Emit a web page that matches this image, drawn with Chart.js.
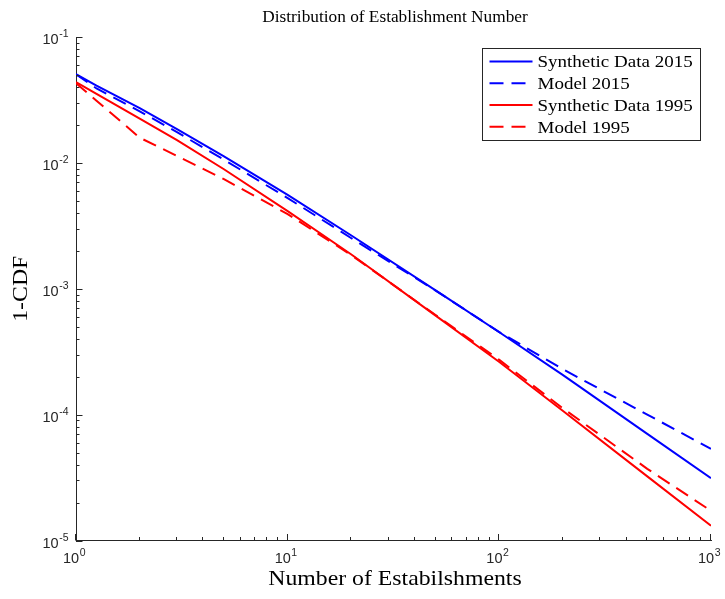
<!DOCTYPE html>
<html>
<head>
<meta charset="utf-8">
<title>Distribution of Establishment Number</title>
<script src="https://cdn.jsdelivr.net/npm/chart.js@4.4.1/dist/chart.umd.min.js"></script>
<style>
  html, body { margin: 0; padding: 0; background: #ffffff; }
  #wrap { width: 725px; height: 599px; }
</style>
</head>
<body>
<div id="wrap"><canvas id="c" width="725" height="599"></canvas></div>
<script>
// Number of establishments (x) and the complementary CDF of each series
const establishments = [1, 1.25, 2, 3, 5, 10, 20, 50, 100, 200, 500, 1000];
const synthetic2015 = [0.0506, 0.0411, 0.0272, 0.01854, 0.01127, 0.00557, 0.00265, 9.70e-4, 4.51e-4, 2.06e-4, 7.03e-5, 3.13e-5];
const model2015     = [0.0506, 0.0390, 0.0257, 0.01753, 0.0106, 0.00525, 0.00252, 9.68e-4, 4.53e-4, 2.29e-4, 1.00e-4, 5.35e-5];
const synthetic1995 = [0.0439, 0.0353, 0.02244, 0.01514, 0.0089, 0.00414, 0.00187, 6.11e-4, 2.62e-4, 1.07e-4, 3.23e-5, 1.31e-5];
const model1995     = [0.0430, 0.0312, 0.01585, 0.01135, 0.00743, 0.00392, 0.00185, 6.18e-4, 2.72e-4, 1.12e-4, 3.71e-5, 1.72e-5];

const seriesNames = ['Synthetic Data 2015', 'Model 2015', 'Synthetic Data 1995', 'Model 1995'];
const xTickExponents = [0, 1, 2, 3];
const yTickExponents = [-5, -4, -3, -2, -1];

const chartTitle = 'Distribution of Establishment Number';
const xAxisTitle = 'Number of Estabilshments';
const yAxisTitle = '1-CDF';

const BLUE = '#0000ff';
const RED = '#ff0000';
const AXIS = '#262626';
const DASH = [14, 8];
const SERIF = '"Liberation Serif", "Times New Roman", serif';
const SANS = '"Liberation Sans", Arial, sans-serif';
const STRETCH = 1.08;

function points(values) {
  return establishments.map((x, i) => ({ x: x, y: values[i] }));
}

const styles = [
  { color: BLUE, dash: [] },
  { color: BLUE, dash: DASH },
  { color: RED, dash: [] },
  { color: RED, dash: DASH }
];
const valueSets = [synthetic2015, model2015, synthetic1995, model1995];

const datasets = valueSets.map((vals, i) => ({
  label: seriesNames[i],
  data: points(vals),
  borderColor: styles[i].color,
  backgroundColor: styles[i].color,
  borderDash: styles[i].dash,
  borderWidth: 2,
  pointRadius: 0,
  showLine: true,
  fill: false,
  tension: 0,
  order: valueSets.length - i
}));

function stretchedText(ctx, text, x, y, align, baseline, font, angle) {
  ctx.save();
  ctx.translate(x, y);
  if (angle) ctx.rotate(angle);
  ctx.scale(STRETCH, 1);
  ctx.font = font;
  ctx.textAlign = align;
  ctx.textBaseline = baseline;
  ctx.fillStyle = '#000000';
  ctx.fillText(text, 0, 0);
  ctx.restore();
}

// Power-of-ten label: "10" with a raised exponent
function powerLabel(ctx, exp, anchorX, baseY, align) {
  const big = '14.5px ' + SANS;
  const small = '10.5px ' + SANS;
  const e = String(exp);
  ctx.save();
  ctx.fillStyle = '#262626';
  ctx.textBaseline = 'alphabetic';
  ctx.font = big;
  const wb = ctx.measureText('10').width;
  ctx.font = small;
  const we = ctx.measureText(e).width;
  let left;
  if (align === 'right') left = anchorX - wb - we;
  else left = anchorX - (wb + we) / 2;
  ctx.textAlign = 'left';
  ctx.font = big;
  ctx.fillText('10', left, baseY);
  ctx.font = small;
  ctx.fillText(e, left + wb + 0.5, baseY - 7);
  ctx.restore();
}

const decorations = {
  id: 'decorations',
  afterDraw(chart) {
    const ctx = chart.ctx;
    const xs = chart.scales.x;
    const ys = chart.scales.y;
    const area = chart.chartArea;

    // inward ticks
    ctx.save();
    ctx.strokeStyle = AXIS;
    ctx.lineWidth = 1;
    ctx.beginPath();
    for (let e = yTickExponents[0]; e <= yTickExponents[yTickExponents.length - 1]; e++) {
      const major = Math.round(ys.getPixelForValue(Math.pow(10, e))) + 0.5;
      ctx.moveTo(area.left, major); ctx.lineTo(area.left + 6.5, major);
      if (e < yTickExponents[yTickExponents.length - 1]) {
        for (let m = 2; m <= 9; m++) {
          const p = Math.round(ys.getPixelForValue(m * Math.pow(10, e))) + 0.5;
          ctx.moveTo(area.left, p); ctx.lineTo(area.left + 3.5, p);
        }
      }
    }
    for (let e = xTickExponents[0]; e <= xTickExponents[xTickExponents.length - 1]; e++) {
      const major = Math.round(xs.getPixelForValue(Math.pow(10, e))) - 0.5;
      ctx.moveTo(major, area.bottom); ctx.lineTo(major, area.bottom - 6.5);
      if (e < xTickExponents[xTickExponents.length - 1]) {
        for (let m = 2; m <= 9; m++) {
          const p = Math.round(xs.getPixelForValue(m * Math.pow(10, e))) - 0.5;
          ctx.moveTo(p, area.bottom); ctx.lineTo(p, area.bottom - 3.5);
        }
      }
    }
    ctx.stroke();
    ctx.restore();

    // tick labels
    yTickExponents.forEach(e => {
      const py = ys.getPixelForValue(Math.pow(10, e));
      powerLabel(ctx, e, 68, py + 7, 'right');
    });
    xTickExponents.forEach(e => {
      const px = xs.getPixelForValue(Math.pow(10, e));
      powerLabel(ctx, e, px - 2, 563, 'center');
    });

    // titles
    const midX = (area.left + area.right) / 2;
    stretchedText(ctx, chartTitle, midX + 1.5, 22, 'center', 'alphabetic', '16px ' + SERIF);
    stretchedText(ctx, xAxisTitle, midX + 1.5, 584.5, 'center', 'alphabetic', '22px ' + SERIF);
    stretchedText(ctx, yAxisTitle, 27, (area.top + area.bottom) / 2, 'center', 'alphabetic', '22px ' + SERIF, -Math.PI / 2);

    // legend
    const box = { left: 482.5, top: 48.5, right: 700.5, bottom: 140.5 };
    ctx.save();
    ctx.fillStyle = '#ffffff';
    ctx.fillRect(box.left, box.top, box.right - box.left, box.bottom - box.top);
    ctx.strokeStyle = AXIS;
    ctx.lineWidth = 1;
    ctx.strokeRect(box.left, box.top, box.right - box.left, box.bottom - box.top);
    datasets.forEach((ds, i) => {
      const cy = 61.6 + i * 21.75;
      ctx.beginPath();
      ctx.setLineDash(ds.borderDash);
      ctx.strokeStyle = ds.borderColor;
      ctx.lineWidth = 2;
      ctx.moveTo(489.5, cy);
      ctx.lineTo(532.5, cy);
      ctx.stroke();
      ctx.setLineDash([]);
      stretchedText(ctx, ds.label, 537.5, cy + 5.8, 'left', 'alphabetic', '17.6px ' + SERIF);
    });
    ctx.restore();
  }
};

new Chart(document.getElementById('c'), {
  type: 'scatter',
  data: { datasets: datasets },
  options: {
    responsive: false,
    devicePixelRatio: 1,
    animation: false,
    layout: { padding: { top: 37, right: 14, left: 0, bottom: 0 } },
    plugins: {
      legend: { display: false },
      title: { display: false },
      tooltip: { enabled: false }
    },
    scales: {
      x: {
        type: 'logarithmic',
        min: 1,
        max: 1000,
        ticks: { display: false },
        grid: { display: false },
        border: { display: true, color: AXIS, width: 1 },
        afterFit(scale) { scale.height = 58.5; }
      },
      y: {
        type: 'logarithmic',
        min: 1e-5,
        max: 0.1,
        ticks: { display: false },
        grid: { display: false },
        border: { display: true, color: AXIS, width: 1 },
        afterFit(scale) { scale.width = 76; }
      }
    }
  },
  plugins: [decorations]
});
</script>
</body>
</html>
